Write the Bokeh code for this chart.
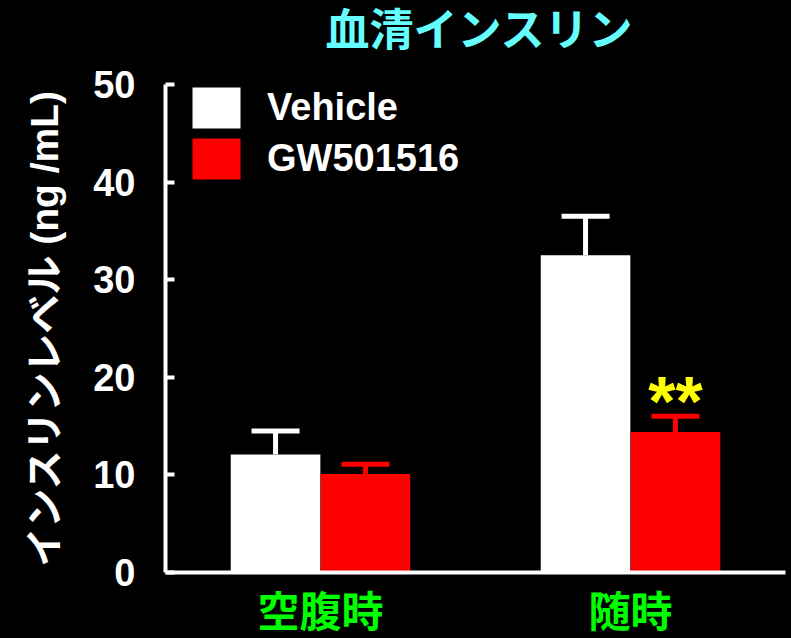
from bokeh.plotting import figure
from bokeh.layouts import column
from bokeh.models import (ColumnDataSource, FactorRange, Range1d, FixedTicker, Whisker,
                          TeeHead, Legend, LegendItem, Div)
from bokeh.transform import dodge
from bokeh.core.properties import value
from bokeh.embed import file_html
from bokeh.resources import INLINE

# ---- data ----
categories = ["空腹時", "随時"]
series_names = ["Vehicle", "GW501516"]
vehicle = [12.1, 32.5]
vehicle_err = [2.4, 4.0]
gw = [10.1, 14.4]
gw_err = [1.0, 1.6]
sig_marks = ["", "**"]
y_ticks = [0, 10, 20, 30, 40, 50]

title_text = "血清インスリン"
y_label = "インスリンレベル (ng /mL)"

src = ColumnDataSource(dict(
    cat=categories,
    veh=vehicle,
    veh_up=[v + e for v, e in zip(vehicle, vehicle_err)],
    gw=gw,
    gw_up=[v + e for v, e in zip(gw, gw_err)],
    sig=sig_marks,
))

LAT = "Liberation Sans, Noto Sans CJK JP"

# title strip (HTML text above the plot)
title_div = Div(
    text=(f'<div style="width:791px;height:62px;box-sizing:border-box;padding-left:167px;'
          f'text-align:center;background:#000;color:#66FFFF;font-size:44px;font-weight:bold;'
          f'line-height:62px;font-family:\'Liberation Sans\',\'Noto Sans CJK JP\',sans-serif;'
          f'white-space:nowrap;">{title_text}</div>'),
    width=791, height=62, margin=0, styles={"background-color": "black"})

p = figure(width=791, height=576, x_range=FactorRange(*categories, range_padding=0),
           y_range=Range1d(0, 50), output_backend="svg", toolbar_location=None,
           title_location=None, margin=0,
           min_border_left=165, min_border_right=6, min_border_top=22, min_border_bottom=66,
           background_fill_color="black", border_fill_color="black", outline_line_color=None)

off = 0.145
bw = 0.289
r_veh = p.vbar(x=dodge("cat", -off, range=p.x_range), top="veh", width=bw, source=src,
               fill_color="white", line_color=None)
r_gw = p.vbar(x=dodge("cat", off, range=p.x_range), top="gw", width=bw, source=src,
              fill_color="#FF0000", line_color=None)

for base_off, lo, up, col in [(-off, "veh", "veh_up", "white"), (off, "gw", "gw_up", "#FF0000")]:
    w = Whisker(source=src, base=dodge("cat", base_off, range=p.x_range), lower=lo, upper=up,
                line_color=col, line_width=5,
                upper_head=TeeHead(size=48, line_color=col, line_width=5), lower_head=None)
    p.add_layout(w)

p.text(x=dodge("cat", off, range=p.x_range), y="gw_up", text="sig", source=src,
       text_color="#FFFF00", text_font=value("Liberation Sans"), text_font_style="bold",
       text_font_size="70px", text_align="center", text_baseline="alphabetic", y_offset=-14)

# grids
p.xgrid.grid_line_color = None
p.ygrid.grid_line_color = None

# y axis
ya = p.yaxis[0]
ya.ticker = FixedTicker(ticks=y_ticks)
ya.axis_line_color = "white"
ya.axis_line_width = 4
ya.major_tick_line_color = "white"
ya.major_tick_line_width = 4
ya.major_tick_in = 9
ya.major_tick_out = 0
ya.minor_tick_line_color = None
ya.major_label_text_color = "white"
ya.major_label_text_font = "Liberation Sans"
ya.major_label_text_font_style = "bold"
ya.major_label_text_font_size = "38px"
ya.major_label_standoff = 30
ya.axis_label = y_label
ya.axis_label_text_color = "white"
ya.axis_label_text_font = LAT
ya.axis_label_text_font_style = "bold"
ya.axis_label_text_font_size = "39px"
ya.axis_label_standoff = 24

# x axis
xa = p.xaxis[0]
xa.axis_line_color = "white"
xa.axis_line_width = 4
xa.major_tick_line_color = None
xa.minor_tick_line_color = None
xa.major_label_text_color = "#00FF00"
xa.major_label_text_font = LAT
xa.major_label_text_font_style = "bold"
xa.major_label_text_font_size = "42px"
xa.major_label_standoff = 10

# legend
legend = Legend(items=[LegendItem(label=series_names[0], renderers=[r_veh]),
                       LegendItem(label=series_names[1], renderers=[r_gw])],
                location=(21, 388), orientation="vertical",
                glyph_width=60, glyph_height=51, label_height=51, spacing=-4,
                label_standoff=21, padding=0, margin=0,
                label_text_color="white", label_text_font="Liberation Sans",
                label_text_font_style="bold", label_text_font_size="38px",
                background_fill_alpha=0, border_line_color=None)
p.add_layout(legend)

layout = column(title_div, p, spacing=0, margin=0, styles={"background-color": "black"})

open("out.html", "w").write(file_html(layout, INLINE))
